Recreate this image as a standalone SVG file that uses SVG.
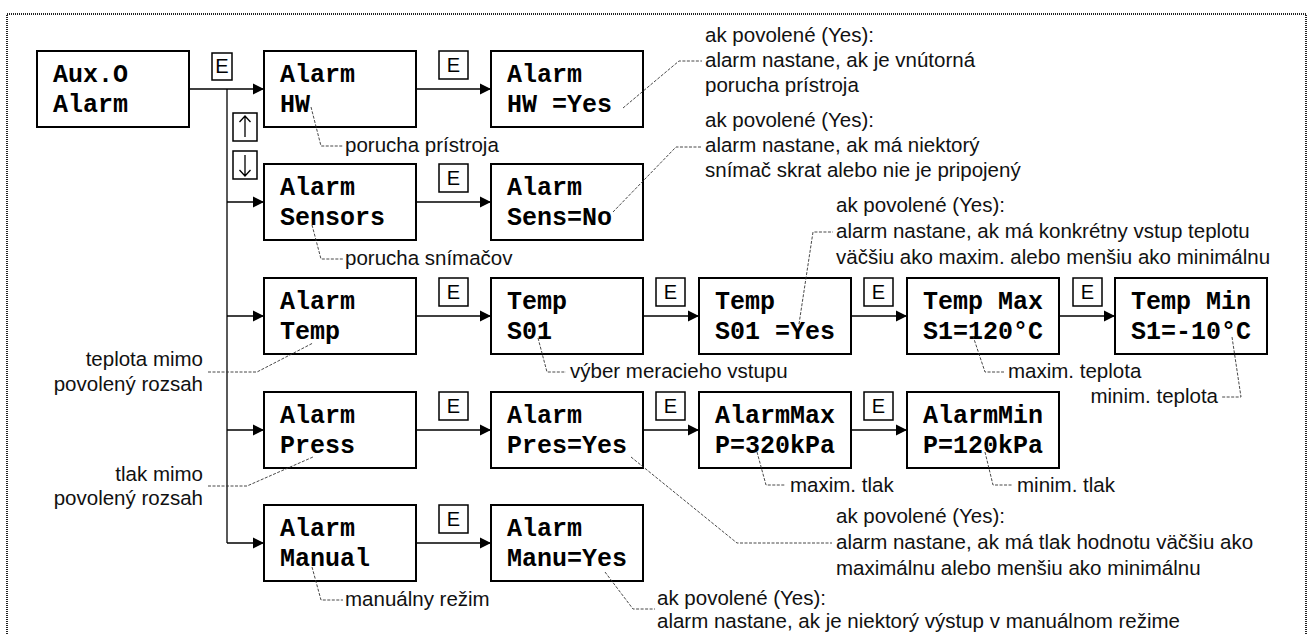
<svg xmlns="http://www.w3.org/2000/svg" width="1313" height="634" viewBox="0 0 1313 634">
<defs>
<marker id="ah" markerUnits="userSpaceOnUse" markerWidth="12" markerHeight="12" viewBox="0 0 12 12" refX="11" refY="6" orient="auto">
<path d="M0,0.5 L11,6 L0,11.5 Z" fill="#000"/>
</marker>
<style>
.box{fill:#fff;stroke:#000;stroke-width:2}
.eb{fill:#fff;stroke:#000;stroke-width:1.5}
.mono{font-family:"Liberation Mono","Courier New",monospace;font-weight:bold;font-size:25px;fill:#000}
.et{font-family:"Liberation Sans",Arial,sans-serif;font-size:20px;fill:#000;text-anchor:middle}
.ann{font-family:"Liberation Sans",Arial,sans-serif;font-size:20.5px;fill:#111}
.end{text-anchor:end}
.con{fill:none;stroke:#000;stroke-width:1.3}
.ld{fill:none;stroke:#333;stroke-width:0.9;stroke-dasharray:3 1.5}
.frame{fill:none;stroke:#222;stroke-width:2;stroke-dasharray:1 1}
</style>
</defs>
<path class="frame" d="M7,634 V14 H1306 V634"/>
<g id="connectors">
<path class="con" d="M189,89 H264" marker-end="url(#ah)"/>
<path class="con" d="M227,89 V543"/>
<path class="con" d="M227,202 H264" marker-end="url(#ah)"/>
<path class="con" d="M227,316 H264" marker-end="url(#ah)"/>
<path class="con" d="M227,430 H264" marker-end="url(#ah)"/>
<path class="con" d="M227,543 H264" marker-end="url(#ah)"/>
<path class="con" d="M416,89 H491" marker-end="url(#ah)"/>
<path class="con" d="M416,202 H491" marker-end="url(#ah)"/>
<path class="con" d="M416,316 H491" marker-end="url(#ah)"/>
<path class="con" d="M643,316 H699" marker-end="url(#ah)"/>
<path class="con" d="M851,316 H907" marker-end="url(#ah)"/>
<path class="con" d="M1059,316 H1115" marker-end="url(#ah)"/>
<path class="con" d="M416,430 H491" marker-end="url(#ah)"/>
<path class="con" d="M643,430 H699" marker-end="url(#ah)"/>
<path class="con" d="M851,430 H907" marker-end="url(#ah)"/>
<path class="con" d="M416,543 H491" marker-end="url(#ah)"/>
</g>
<g id="keys">
<rect class="eb" x="212" y="53" width="20" height="27"/><text class="et" x="222" y="73">E</text>
<rect class="eb" x="233" y="113" width="24" height="28"/>
<path class="con" d="M245,137 V116 M239.5,122 L245,116 L250.5,122"/>
<rect class="eb" x="233" y="151" width="24" height="28"/>
<path class="con" d="M245,155 V176 M239.5,170 L245,176 L250.5,170"/>
<rect class="eb" x="439" y="51" width="29" height="28"/><text class="et" x="453.5" y="72">E</text>
<rect class="eb" x="439" y="164" width="29" height="28"/><text class="et" x="453.5" y="185">E</text>
<rect class="eb" x="439" y="278" width="29" height="28"/><text class="et" x="453.5" y="299">E</text>
<rect class="eb" x="656" y="278" width="29" height="28"/><text class="et" x="670.5" y="299">E</text>
<rect class="eb" x="864" y="278" width="29" height="28"/><text class="et" x="878.5" y="299">E</text>
<rect class="eb" x="1073" y="278" width="29" height="28"/><text class="et" x="1087.5" y="299">E</text>
<rect class="eb" x="439" y="392" width="29" height="28"/><text class="et" x="453.5" y="413">E</text>
<rect class="eb" x="656" y="392" width="29" height="28"/><text class="et" x="670.5" y="413">E</text>
<rect class="eb" x="864" y="392" width="29" height="28"/><text class="et" x="878.5" y="413">E</text>
<rect class="eb" x="439" y="505" width="29" height="28"/><text class="et" x="453.5" y="526">E</text>
</g>
<g id="n-aux"><rect class="box" x="37" y="51" width="152" height="76"/><text class="mono" x="53" y="82">Aux.O</text><text class="mono" x="53" y="112">Alarm</text></g>
<g id="n-hw"><rect class="box" x="264" y="51" width="152" height="76"/><text class="mono" x="280" y="82">Alarm</text><text class="mono" x="280" y="112">HW</text></g>
<g id="n-hwyes"><rect class="box" x="491" y="51" width="152" height="76"/><text class="mono" x="507" y="82">Alarm</text><text class="mono" x="507" y="112">HW =Yes</text></g>
<g id="n-sens"><rect class="box" x="264" y="164" width="152" height="76"/><text class="mono" x="280" y="195">Alarm</text><text class="mono" x="280" y="225">Sensors</text></g>
<g id="n-sensno"><rect class="box" x="491" y="164" width="152" height="76"/><text class="mono" x="507" y="195">Alarm</text><text class="mono" x="507" y="225">Sens=No</text></g>
<g id="n-temp"><rect class="box" x="264" y="278" width="152" height="76"/><text class="mono" x="280" y="309">Alarm</text><text class="mono" x="280" y="339">Temp</text></g>
<g id="n-temps01"><rect class="box" x="491" y="278" width="152" height="76"/><text class="mono" x="507" y="309">Temp</text><text class="mono" x="507" y="339">S01</text></g>
<g id="n-tempyes"><rect class="box" x="699" y="278" width="152" height="76"/><text class="mono" x="715" y="309">Temp</text><text class="mono" x="715" y="339">S01 =Yes</text></g>
<g id="n-tempmax"><rect class="box" x="907" y="278" width="152" height="76"/><text class="mono" x="923" y="309">Temp Max</text><text class="mono" x="923" y="339">S1=120°C</text></g>
<g id="n-tempmin"><rect class="box" x="1115" y="278" width="152" height="76"/><text class="mono" x="1131" y="309">Temp Min</text><text class="mono" x="1131" y="339">S1=-10°C</text></g>
<g id="n-press"><rect class="box" x="264" y="392" width="152" height="76"/><text class="mono" x="280" y="423">Alarm</text><text class="mono" x="280" y="453">Press</text></g>
<g id="n-presyes"><rect class="box" x="491" y="392" width="152" height="76"/><text class="mono" x="507" y="423">Alarm</text><text class="mono" x="507" y="453">Pres=Yes</text></g>
<g id="n-pmax"><rect class="box" x="699" y="392" width="152" height="76"/><text class="mono" x="715" y="423">AlarmMax</text><text class="mono" x="715" y="453">P=320kPa</text></g>
<g id="n-pmin"><rect class="box" x="907" y="392" width="152" height="76"/><text class="mono" x="923" y="423">AlarmMin</text><text class="mono" x="923" y="453">P=120kPa</text></g>
<g id="n-manual"><rect class="box" x="264" y="505" width="152" height="76"/><text class="mono" x="280" y="536">Alarm</text><text class="mono" x="280" y="566">Manual</text></g>
<g id="n-manuyes"><rect class="box" x="491" y="505" width="152" height="76"/><text class="mono" x="507" y="536">Alarm</text><text class="mono" x="507" y="566">Manu=Yes</text></g>
<g id="leaders">
<path class="ld" d="M311,107 L321,146 H343"/>
<path class="ld" d="M623,108 L679,61 H702"/>
<path class="ld" d="M613,212 L676,147 H702"/>
<path class="ld" d="M312,225 L321,259 H343"/>
<path class="ld" d="M799,324 L813,232 H833"/>
<path class="ld" d="M208,372 H257 L313,343"/>
<path class="ld" d="M538,338 L547,372 H566"/>
<path class="ld" d="M973,336 L985,372 H1004"/>
<path class="ld" d="M1232,337 L1241,397 H1222"/>
<path class="ld" d="M208,486 H247 L313,457"/>
<path class="ld" d="M757,452 L766,485 H785"/>
<path class="ld" d="M985,452 L993,485 H1012"/>
<path class="ld" d="M631,457 L737,543 H832"/>
<path class="ld" d="M312,567 L321,600 H343"/>
<path class="ld" d="M605,572 L633,609 H655"/>
</g>
<g id="annotations">
<text class="ann" x="345" y="152">porucha prístroja</text>
<text class="ann" x="705" y="42">ak povolené (Yes):</text>
<text class="ann" x="705" y="67">alarm nastane, ak je vnútorná</text>
<text class="ann" x="705" y="92">porucha prístroja</text>
<text class="ann" x="705" y="127">ak povolené (Yes):</text>
<text class="ann" x="705" y="152">alarm nastane, ak má niektorý</text>
<text class="ann" x="705" y="177">snímač skrat alebo nie je pripojený</text>
<text class="ann" x="345" y="265">porucha snímačov</text>
<text class="ann" x="836" y="212">ak povolené (Yes):</text>
<text class="ann" x="836" y="238">alarm nastane, ak má konkrétny vstup teplotu</text>
<text class="ann" x="836" y="264">väčšiu ako maxim. alebo menšiu ako minimálnu</text>
<text class="ann end" x="203" y="366">teplota mimo</text>
<text class="ann end" x="203" y="391">povolený rozsah</text>
<text class="ann" x="570" y="378">výber meracieho vstupu</text>
<text class="ann" x="1008" y="378">maxim. teplota</text>
<text class="ann end" x="1218" y="403">minim. teplota</text>
<text class="ann end" x="203" y="481">tlak mimo</text>
<text class="ann end" x="203" y="505">povolený rozsah</text>
<text class="ann" x="790" y="492">maxim. tlak</text>
<text class="ann" x="1017" y="492">minim. tlak</text>
<text class="ann" x="836" y="523">ak povolené (Yes):</text>
<text class="ann" x="836" y="549">alarm nastane, ak má tlak hodnotu väčšiu ako</text>
<text class="ann" x="836" y="575">maximálnu alebo menšiu ako minimálnu</text>
<text class="ann" x="345" y="606">manuálny režim</text>
<text class="ann" x="657" y="605">ak povolené (Yes):</text>
<text class="ann" x="657" y="628">alarm nastane, ak je niektorý výstup v manuálnom režime</text>
</g>
</svg>
